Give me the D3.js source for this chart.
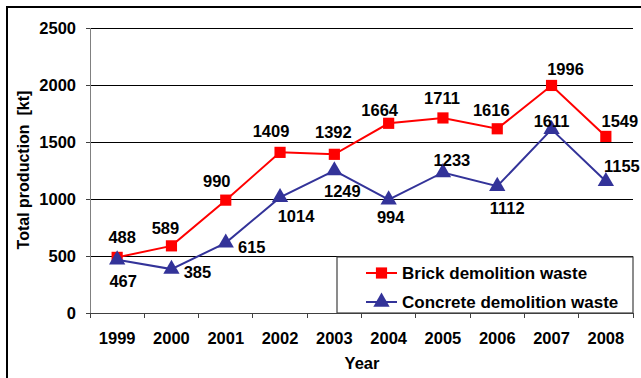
<!DOCTYPE html>
<html>
<head>
<meta charset="utf-8">
<script src="https://cdn.jsdelivr.net/npm/d3@7"></script>
<style>
  html, body { margin: 0; padding: 0; background: #fff; }
  svg { display: block; font-family: "Liberation Sans", Arial, sans-serif; font-weight: bold; }
</style>
</head>
<body>
<svg id="chart" width="641" height="378"></svg>
<script>
// Annual production of demolition waste, 1999–2008 (kt)
const years = ["1999", "2000", "2001", "2002", "2003", "2004", "2005", "2006", "2007", "2008"];
const brickValues = [488, 589, 990, 1409, 1392, 1664, 1711, 1616, 1996, 1549];
const concreteValues = [467, 385, 615, 1014, 1249, 994, 1233, 1112, 1611, 1155];
const yTicks = [0, 500, 1000, 1500, 2000, 2500];
const seriesNames = ["Brick demolition waste", "Concrete demolition waste"];

// Value label placement relative to each marker: [dx, dy of baseline]
const brickLabelOffsets = [[5, -14], [-6, -12], [-9, -13], [-9, -15], [-1, -16], [-9, -7], [-1, -14], [-6, -13], [14, -10], [14, -9]];
const concreteLabelOffsets = [[6, 27], [26, 9], [26, 10], [16, 25], [8, 26], [2, 23], [9, -6], [10, 28], [0, -2], [16, -9]];

const svg = d3.select("#chart");
const plotLeft = 90, plotRight = 633, plotTop = 28, plotBottom = 313;
const fontSize = 16.5;

const x = d3.scaleBand().domain(years).range([plotLeft, plotRight]).padding(0);
const y = d3.scaleLinear().domain([0, 2500]).range([plotBottom, plotTop]);
const cx = d => x(d) + x.bandwidth() / 2;

// outer frame
svg.append("rect")
  .attr("x", 7).attr("y", 7).attr("width", 700).attr("height", 400)
  .attr("fill", "none").attr("stroke", "#000").attr("stroke-width", 2);

// horizontal gridlines with left tick marks
svg.append("g").selectAll("line")
  .data(yTicks.filter(t => t > 0))
  .join("line")
  .attr("x1", plotLeft - 4).attr("x2", plotRight)
  .attr("y1", d => y(d)).attr("y2", d => y(d))
  .attr("stroke", "#000").attr("stroke-width", 1).attr("shape-rendering", "crispEdges");

// y axis
const yAxis = d3.axisLeft(y).tickValues(yTicks).tickSize(4).tickPadding(10).tickFormat(d3.format("d"));
const gy = svg.append("g").attr("transform", `translate(${plotLeft},0)`).call(yAxis);
gy.select(".domain").attr("stroke", "#808080").attr("shape-rendering", "crispEdges");
gy.selectAll(".tick line").attr("stroke", "#404040").attr("shape-rendering", "crispEdges");
gy.selectAll(".tick text").attr("font-size", fontSize).attr("font-weight", "bold")
  .attr("font-family", "Liberation Sans, Arial, sans-serif").attr("fill", "#000");

// x axis line and tick marks at category boundaries
svg.append("line")
  .attr("x1", plotLeft - 4).attr("x2", plotRight).attr("y1", plotBottom).attr("y2", plotBottom)
  .attr("stroke", "#404040").attr("stroke-width", 1).attr("shape-rendering", "crispEdges");
svg.append("g").selectAll("line")
  .data(years.concat(["end"]))
  .join("line")
  .attr("x1", (d, i) => plotLeft + i * x.bandwidth())
  .attr("x2", (d, i) => plotLeft + i * x.bandwidth())
  .attr("y1", plotBottom).attr("y2", plotBottom + 5)
  .attr("stroke", "#404040").attr("shape-rendering", "crispEdges");
svg.append("g").selectAll("text")
  .data(years)
  .join("text")
  .attr("x", d => cx(d)).attr("y", 344)
  .attr("text-anchor", "middle").attr("font-size", fontSize)
  .text(d => d);

// axis titles
svg.append("text")
  .attr("x", 362).attr("y", 369).attr("text-anchor", "middle").attr("font-size", fontSize)
  .text("Year");
svg.append("text")
  .attr("transform", "translate(29,170) rotate(-90)")
  .attr("text-anchor", "middle").attr("font-size", 16)
  .attr("xml:space", "preserve")
  .text("Total production  [kt]");

// legend box
const legend = svg.append("g");
legend.append("rect")
  .attr("x", 337).attr("y", 257).attr("width", 296).attr("height", 56)
  .attr("fill", "#fff").attr("stroke", "#404040").attr("stroke-width", 1.2);

const colors = ["#FF0000", "#333399"];
const symbols = [d3.symbolSquare, d3.symbolTriangle];
const symbolSizes = [125, 115];

// series lines, markers and value labels
const series = [
  { values: brickValues, offsets: brickLabelOffsets },
  { values: concreteValues, offsets: concreteLabelOffsets }
];
const line = d3.line().x((d, i) => cx(years[i])).y(d => y(d));

series.forEach((s, k) => {
  const g = svg.append("g");
  g.append("path")
    .attr("d", line(s.values))
    .attr("fill", "none").attr("stroke", colors[k]).attr("stroke-width", 2);
  g.selectAll("path.m")
    .data(s.values)
    .join("path").attr("class", "m")
    .attr("d", d3.symbol().type(symbols[k]).size(symbolSizes[k]))
    .attr("transform", (d, i) => `translate(${cx(years[i])},${y(d)})`)
    .attr("fill", colors[k]);
  g.selectAll("text")
    .data(s.values)
    .join("text")
    .attr("x", (d, i) => cx(years[i]) + s.offsets[i][0])
    .attr("y", (d, i) => y(d) + s.offsets[i][1])
    .attr("text-anchor", "middle").attr("font-size", fontSize)
    .text(d => d);
});

// legend entries
seriesNames.forEach((name, k) => {
  const ly = [273, 302][k];
  legend.append("line")
    .attr("x1", 366).attr("x2", 397).attr("y1", ly).attr("y2", ly)
    .attr("stroke", colors[k]).attr("stroke-width", 2);
  legend.append("path")
    .attr("d", d3.symbol().type(symbols[k]).size(symbolSizes[k]))
    .attr("transform", `translate(381.5,${ly})`)
    .attr("fill", colors[k]);
  legend.append("text")
    .attr("x", 402).attr("y", ly + 5.5).attr("font-size", 17)
    .text(name);
});
</script>
</body>
</html>
